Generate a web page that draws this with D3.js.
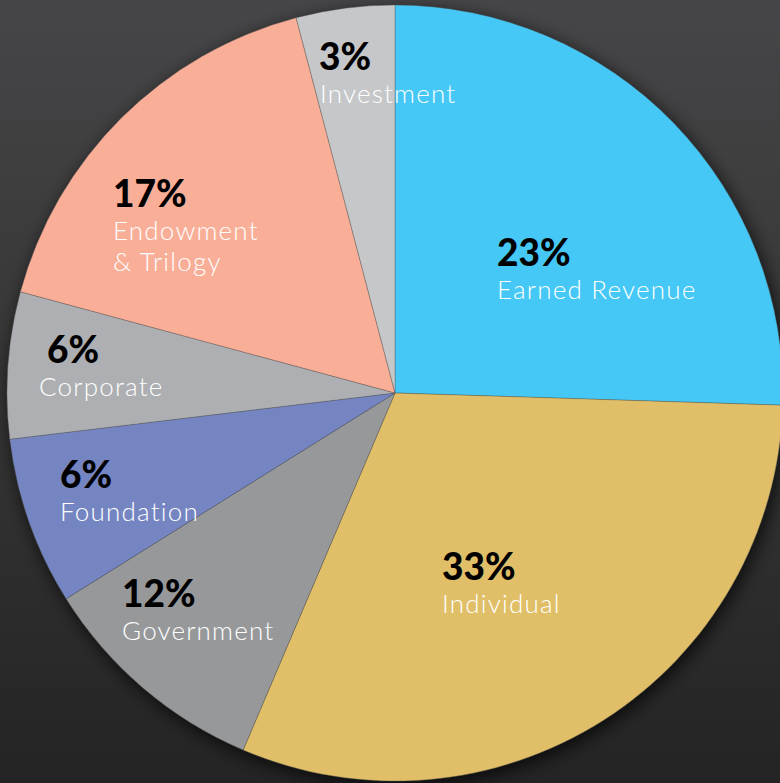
<!DOCTYPE html>
<html>
<head>
<meta charset="utf-8">
<script src="https://cdn.jsdelivr.net/npm/d3@7/dist/d3.min.js"></script>
<style>
html,body{margin:0;padding:0;background:#333;}
svg{display:block;}
</style>
</head>
<body>
<svg id="chart" width="780" height="783"></svg>
<script>
const categories = ["Earned Revenue", "Individual", "Government", "Foundation", "Corporate", "Endowment & Trilogy", "Investment"];
const values = [25.5, 30.9, 9.7, 7.0, 6.1, 16.7, 4.1];
const percentLabels = ["23%", "33%", "12%", "6%", "6%", "17%", "3%"];
const nameLines = [["Earned Revenue"], ["Individual"], ["Government"], ["Foundation"], ["Corporate"], ["Endowment", "& Trilogy"], ["Investment"]];
const colors = ["#45c8f5", "#e0bf68", "#97989a", "#7585c2", "#aeafb2", "#f9ae98", "#c6c7c9"];

// Layout for label blocks (left x, baseline of percent line), name line x
const labelLayout = [
  {x: 497, y: 266, nx: 497},
  {x: 442, y: 580, nx: 442},
  {x: 122, y: 607, nx: 122},
  {x: 60,  y: 488, nx: 60},
  {x: 47,  y: 363, nx: 39},
  {x: 113, y: 207, nx: 113},
  {x: 319, y: 70,  nx: 320}
];

const W = 780, H = 783;
const cx = 395, cy = 393, R = 388;

const svg = d3.select("#chart");
const defs = svg.append("defs");
const bg = defs.append("linearGradient").attr("id", "bg").attr("x1", 0).attr("y1", 0).attr("x2", 0).attr("y2", 1);
bg.append("stop").attr("offset", "0%").attr("stop-color", "#464648");
bg.append("stop").attr("offset", "100%").attr("stop-color", "#242424");

const shadow = defs.append("filter").attr("id", "shadow").attr("x", "-20%").attr("y", "-20%").attr("width", "140%").attr("height", "140%");
shadow.append("feGaussianBlur").attr("in", "SourceAlpha").attr("stdDeviation", 9).attr("result", "b");
shadow.append("feOffset").attr("in", "b").attr("dx", 3).attr("dy", 5).attr("result", "o");
shadow.append("feComponentTransfer").attr("in", "o").attr("result", "s")
  .append("feFuncA").attr("type", "linear").attr("slope", 0.75);
const merge = shadow.append("feMerge");
merge.append("feMergeNode").attr("in", "s");
merge.append("feMergeNode").attr("in", "SourceGraphic");

svg.append("rect").attr("width", W).attr("height", H).attr("fill", "url(#bg)");

const pie = d3.pie().sort(null).value(d => d);
const arc = d3.arc().innerRadius(0).outerRadius(R);
const arcs = pie(values);

const g = svg.append("g").attr("transform", `translate(${cx},${cy})`);
const pieG = g.append("g").attr("filter", "url(#shadow)");
pieG.selectAll("path").data(arcs).join("path")
  .attr("d", arc)
  .attr("fill", (d, i) => colors[i])
  .attr("stroke", "rgba(70,70,70,0.45)")
  .attr("stroke-width", 0.7);

const labels = svg.append("g");
arcs.forEach((d, i) => {
  const L = labelLayout[i];
  labels.append("text")
    .attr("x", L.x).attr("y", L.y)
    .attr("font-family", "Lato, 'Noto Sans', sans-serif")
    .attr("font-weight", 900)
    .attr("font-size", 37)
    .attr("fill", "#000")
    .text(percentLabels[i]);
  nameLines[i].forEach((line, j) => {
    labels.append("text")
      .attr("x", L.nx).attr("y", L.y + 33 + j * 31)
      .attr("font-family", "Lato, 'Noto Sans', sans-serif")
      .attr("font-weight", 300)
      .attr("font-size", 26)
      .attr("fill", "#fff")
      .attr("letter-spacing", 1.2)
      .text(line);
  });
});
</script>
</body>
</html>
